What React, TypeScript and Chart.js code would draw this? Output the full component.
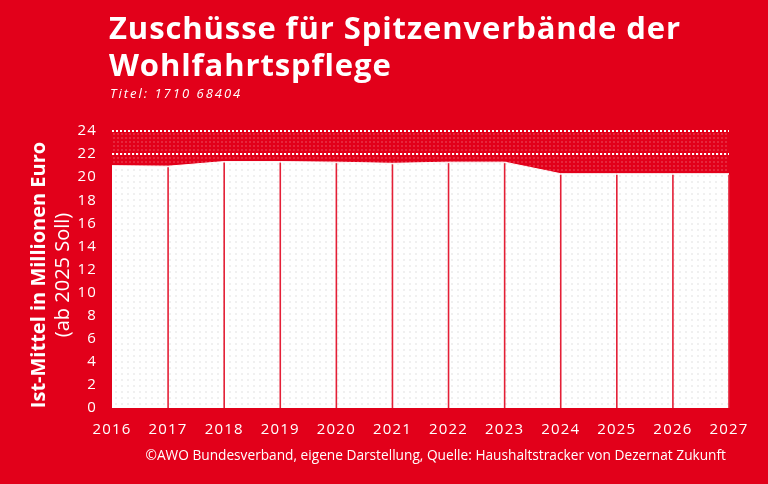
import React, { useEffect, useRef } from "react";
import { Chart, registerables } from "chart.js";

Chart.register(...registerables);

const years = ["2016", "2017", "2018", "2019", "2020", "2021", "2022", "2023", "2024", "2025", "2026", "2027"];
const funding = [21.0, 20.95, 21.35, 21.35, 21.3, 21.2, 21.3, 21.3, 20.3, 20.3, 20.3, 20.3];
const ceiling = [24, 24, 24, 24, 24, 24, 24, 24, 24, 24, 24, 24];
const dottedLines = [22, 24];

const RED = "#e2001a";
const FONT = "'Open Sans', 'DejaVu Sans', sans-serif";

function makePattern(bg: string, dot: string, size: number, dotSize: number) {
  const c = document.createElement("canvas");
  c.width = size;
  c.height = size;
  const x = c.getContext("2d")!;
  x.fillStyle = bg;
  x.fillRect(0, 0, size, size);
  x.fillStyle = dot;
  x.fillRect(1, 1, dotSize, dotSize);
  return x.createPattern(c, "repeat")!;
}

const yearLines = {
  id: "yearLines",
  afterDatasetsDraw(chart: any) {
    const meta = chart.getDatasetMeta(0);
    const ctx = chart.ctx;
    const bottom = chart.scales.y.getPixelForValue(0);
    ctx.save();
    ctx.strokeStyle = "#e41f36";
    ctx.lineWidth = 1.6;
    meta.data.forEach((pt: any, i: number) => {
      if (i === 0) return;
      ctx.beginPath();
      ctx.moveTo(pt.x, pt.y + 1);
      ctx.lineTo(pt.x, bottom);
      ctx.stroke();
    });
    ctx.restore();
  },
};

const spacing = {
  id: "spacing",
  beforeDraw(chart: any) {
    (chart.ctx as any).letterSpacing = "1.2px";
  },
  beforeDatasetsDraw(chart: any) {
    (chart.ctx as any).letterSpacing = "0px";
  },
};

export default function App() {
  const ref = useRef<HTMLCanvasElement>(null);

  useEffect(() => {
    document.body.style.margin = "0";
    const redPattern = makePattern(RED, "rgba(255,255,255,0.15)", 4, 2);
    const whitePattern = makePattern("#ffffff", "#f0f0f0", 6, 2);
    const chart = new Chart(ref.current!, {
      type: "line",
      data: {
        labels: years,
        datasets: [
          {
            data: funding,
            borderColor: "#ffffff",
            borderWidth: 1,
            backgroundColor: whitePattern as any,
            fill: "origin",
            pointRadius: 0,
            tension: 0,
          },
          {
            data: ceiling,
            borderWidth: 0,
            borderColor: "rgba(0,0,0,0)",
            backgroundColor: redPattern as any,
            fill: "origin",
            pointRadius: 0,
            tension: 0,
          },
        ],
      },
      options: {
        responsive: false,
        animation: false,
        events: [],
        layout: { padding: { top: 131, right: 39, left: 0, bottom: 0 } },
        plugins: { legend: { display: false }, tooltip: { enabled: false } },
        scales: {
          x: {
            offset: false,
            grid: { display: false, drawTicks: false },
            border: { display: false },
            ticks: {
              color: "#ffffff",
              font: { family: FONT, size: 15 },
              padding: 13,
              maxRotation: 0,
              autoSkip: false,
            },
            afterFit: (s: any) => {
              s.height = 76;
            },
          },
          y: {
            min: 0,
            max: 24,
            grid: {
              z: 1,
              drawTicks: false,
              lineWidth: 2,
              color: (c: any) => (dottedLines.includes(c.tick?.value) ? "#ffffff" : "rgba(0,0,0,0)"),
            },
            border: { display: false, dash: [2, 2] },
            ticks: {
              stepSize: 2,
              color: "#ffffff",
              font: { family: FONT, size: 15 },
              padding: 15,
            },
            afterFit: (s: any) => {
              s.width = 112;
            },
          },
        },
      },
      plugins: [yearLines, spacing],
    });
    return () => chart.destroy();
  }, []);

  return (
    <div style={{ position: "relative", width: 768, height: 484, background: RED, overflow: "hidden", fontFamily: FONT, color: "#fff" }}>
      <canvas ref={ref} width={768} height={484} style={{ position: "absolute", left: 0, top: 0 }} />
      <div style={{ position: "absolute", left: 109, top: 9, fontSize: 31, fontWeight: 700, lineHeight: "37px", letterSpacing: "0.9px", whiteSpace: "nowrap" }}>
        Zuschüsse für Spitzenverbände der
        <br />
        Wohlfahrtspflege
      </div>
      <div style={{ position: "absolute", left: 110, top: 84, fontSize: 13, fontStyle: "italic", letterSpacing: "2px", whiteSpace: "nowrap" }}>
        Titel: 1710 68404
      </div>
      <div
        style={{
          position: "absolute",
          left: -100,
          top: 251,
          width: 300,
          height: 48,
          lineHeight: "24px",
          fontSize: 20,
          textAlign: "center",
          transform: "rotate(-90deg)",
          whiteSpace: "nowrap",
        }}
      >
        <div style={{ fontWeight: 700 }}>Ist-Mittel in Millionen Euro</div>
        <div>(ab 2025 Soll)</div>
      </div>
      <div style={{ position: "absolute", right: 42, top: 445, fontSize: 13.7, whiteSpace: "nowrap" }}>
        ©AWO Bundesverband, eigene Darstellung, Quelle: Haushaltstracker von Dezernat Zukunft
      </div>
    </div>
  );
}
